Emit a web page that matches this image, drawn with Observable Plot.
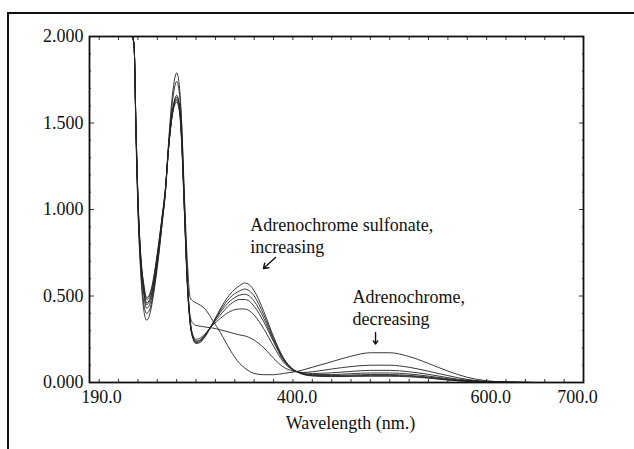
<!DOCTYPE html>
<html>
<head>
<meta charset="utf-8">
<script src="https://cdn.jsdelivr.net/npm/d3@7"></script>
<script src="https://cdn.jsdelivr.net/npm/@observablehq/plot@0.6"></script>
<style>
  html, body { margin: 0; padding: 0; background: #fff; }
  #wrap { position: relative; width: 634px; height: 449px; background: #fff; overflow: hidden; }
  #border { position: absolute; left: 7px; top: 12px; right: -5px; bottom: -5px;
            border-top: 2.5px solid #111; border-left: 2.5px solid #111; pointer-events: none; }
</style>
</head>
<body>
<div id="wrap"><div id="chart"></div><div id="border"></div></div>
<script>
// ---- data ----
const wavelength = [190, 234, 236, 238, 240, 243, 246, 249, 252, 255, 258, 262, 265, 268, 272, 276, 280, 283, 285, 288, 291, 294, 297,
                    300, 305, 310, 317, 325, 335, 345, 350, 355, 360, 370, 380, 390, 400, 405, 410, 420, 440, 460, 480, 500, 520, 540, 560, 580, 600, 620, 650, 700];

const scanA = [2.0, 2.0, 1.95, 1.42, 1.0, 0.62, 0.42, 0.36, 0.39, 0.47, 0.58, 0.76, 0.92, 1.08, 1.42, 1.68, 1.79, 1.7, 1.52, 1.08, 0.7, 0.49, 0.47,
               0.46, 0.445, 0.42, 0.36, 0.29, 0.19, 0.11, 0.085, 0.065, 0.052, 0.045, 0.045, 0.052, 0.06, 0.065, 0.072, 0.088, 0.12, 0.152, 0.172, 0.172, 0.15, 0.11, 0.066, 0.03, 0.01, 0.003, 0, 0];
const scanB = [2.0, 2.0, 1.95, 1.44, 1.02, 0.65, 0.46, 0.40, 0.42, 0.49, 0.6, 0.77, 0.92, 1.08, 1.4, 1.64, 1.74, 1.66, 1.5, 1.05, 0.6, 0.38, 0.34,
               0.33, 0.325, 0.32, 0.315, 0.305, 0.29, 0.275, 0.27, 0.26, 0.245, 0.2, 0.14, 0.09, 0.066, 0.06, 0.058, 0.062, 0.078, 0.092, 0.1, 0.1, 0.088, 0.065, 0.04, 0.018, 0.006, 0.002, 0, 0];
const scanC = [2.0, 2.0, 1.95, 1.46, 1.05, 0.69, 0.51, 0.43, 0.45, 0.51, 0.61, 0.79, 0.94, 1.08, 1.38, 1.58, 1.66, 1.6, 1.44, 1.02, 0.6, 0.36, 0.27,
               0.25, 0.26, 0.285, 0.33, 0.37, 0.41, 0.425, 0.425, 0.415, 0.39, 0.31, 0.21, 0.12, 0.072, 0.062, 0.056, 0.052, 0.056, 0.064, 0.07, 0.07, 0.062, 0.047, 0.028, 0.013, 0.005, 0.001, 0, 0];
const scanD = [2.0, 2.0, 1.95, 1.46, 1.05, 0.7, 0.53, 0.45, 0.47, 0.53, 0.63, 0.8, 0.94, 1.08, 1.38, 1.58, 1.65, 1.59, 1.43, 1.01, 0.59, 0.35, 0.265,
               0.24, 0.25, 0.28, 0.335, 0.39, 0.45, 0.48, 0.48, 0.47, 0.44, 0.35, 0.235, 0.13, 0.074, 0.06, 0.052, 0.046, 0.046, 0.051, 0.055, 0.055, 0.049, 0.037, 0.022, 0.01, 0.004, 0.001, 0, 0];
const scanE = [2.0, 2.0, 1.95, 1.47, 1.06, 0.71, 0.54, 0.46, 0.48, 0.54, 0.64, 0.81, 0.95, 1.09, 1.38, 1.57, 1.64, 1.58, 1.42, 1.0, 0.58, 0.345, 0.26,
               0.235, 0.245, 0.28, 0.34, 0.405, 0.47, 0.505, 0.51, 0.5, 0.47, 0.37, 0.245, 0.135, 0.075, 0.06, 0.05, 0.042, 0.04, 0.043, 0.046, 0.046, 0.041, 0.031, 0.018, 0.008, 0.003, 0.001, 0, 0];
const scanF = [2.0, 2.0, 1.95, 1.47, 1.07, 0.72, 0.56, 0.48, 0.5, 0.56, 0.66, 0.82, 0.96, 1.1, 1.38, 1.57, 1.63, 1.57, 1.41, 0.99, 0.57, 0.34, 0.255,
               0.23, 0.24, 0.275, 0.34, 0.415, 0.49, 0.53, 0.54, 0.53, 0.5, 0.39, 0.255, 0.14, 0.076, 0.06, 0.049, 0.04, 0.037, 0.039, 0.041, 0.041, 0.037, 0.028, 0.016, 0.007, 0.003, 0.001, 0, 0];
const scanG = [2.0, 2.0, 1.95, 1.48, 1.08, 0.73, 0.57, 0.49, 0.51, 0.57, 0.67, 0.83, 0.96, 1.1, 1.38, 1.56, 1.62, 1.56, 1.4, 0.98, 0.56, 0.335, 0.25,
               0.225, 0.235, 0.27, 0.34, 0.425, 0.51, 0.56, 0.575, 0.565, 0.53, 0.41, 0.265, 0.145, 0.077, 0.06, 0.048, 0.038, 0.034, 0.035, 0.036, 0.036, 0.033, 0.025, 0.014, 0.006, 0.002, 0.001, 0, 0];

const scans = {A: scanA, B: scanB, C: scanC, D: scanD, E: scanE, F: scanF, G: scanG};

const xTickValues = [190, 400, 600, 700];
const yTickValues = [0, 0.5, 1.0, 1.5, 2.0];
const xLabel = "Wavelength (nm.)";

const annotations = [
  {wl: 356, a: 0.855, text: "Adrenochrome sulfonate,\nincreasing"},
  {wl: 461.5, a: 0.439, text: "Adrenochrome,\ndecreasing"}
];
const arrows = [
  {wl1: 382, a1: 0.7225, wl2: 369.6, a2: 0.659},
  {wl1: 485.3, a1: 0.289, wl2: 485.3, a2: 0.222}
];

// ---- build table ----
const rows = [];
for (const [scan, vals] of Object.entries(scans)) {
  vals.forEach((v, i) => rows.push({scan, wavelength: wavelength[i], absorbance: v}));
}

const minorX = d3.range(200, 700, 20);
const minorY = d3.range(0.1, 2.0, 0.1).filter(v => Math.abs(v * 2 - Math.round(v * 2)) > 1e-6);
const majorY = [0.5, 1.0, 1.5];

const font = "'Liberation Serif', 'Times New Roman', Times, serif";
const fmtX = d3.format(".1f");
const fmtY = d3.format(".3f");
const xShift = [12, 4, 4, -6];

const chart = Plot.plot({
  width: 634,
  height: 449,
  marginLeft: 89,
  marginRight: 51,
  marginTop: 36,
  marginBottom: 67,
  style: {fontFamily: font, fontSize: "18px", color: "#111", background: "transparent"},
  x: {domain: [190, 700]},
  y: {domain: [0, 2]},
  marks: [
    Plot.axisY(yTickValues, {anchor: "left", tickSize: 0, tickPadding: 6, tickFormat: fmtY, label: null, fontSize: 18}),
    Plot.axisY(minorY, {anchor: "left", tickSize: -2, fill: "none", label: null, stroke: "#333"}),
    Plot.axisY(majorY, {anchor: "left", tickSize: -5, fill: "none", label: null, stroke: "#333"}),
    Plot.axisY(minorY, {anchor: "right", tickSize: -2, fill: "none", label: null, stroke: "#333"}),
    Plot.axisY(majorY, {anchor: "right", tickSize: -5, fill: "none", label: null, stroke: "#333"}),
    Plot.axisX(minorX, {anchor: "bottom", tickSize: -3, fill: "none", label: null, stroke: "#333"}),
    Plot.axisX(minorX, {anchor: "top", tickSize: -3, fill: "none", label: null, stroke: "#333"}),
    ...xTickValues.map((t, i) => Plot.text([t], {x: d => d, frameAnchor: "bottom", dy: 15, dx: xShift[i],
      lineAnchor: "middle", text: d => fmtX(d), fontSize: 18, fill: "#111"})),
    Plot.text([xLabel], {frameAnchor: "bottom", dx: 14, dy: 41, lineAnchor: "middle", text: d => d, fontSize: 18, fill: "#111"}),
    Plot.line(rows, {x: "wavelength", y: "absorbance", z: "scan", curve: "monotone-x",
      stroke: "#222", strokeWidth: 0.9, clip: true}),
    Plot.frame({stroke: "#111", strokeWidth: 1.8}),
    Plot.text(annotations, {x: "wl", y: "a", text: "text", textAnchor: "start", lineAnchor: "middle",
      lineHeight: 1.22, fontSize: 18, fill: "#111"}),
    Plot.arrow(arrows, {x1: "wl1", y1: "a1", x2: "wl2", y2: "a2", stroke: "#111", strokeWidth: 1.4, headLength: 6, headAngle: 70})
  ]
});
document.getElementById("chart").appendChild(chart);
</script>
</body>
</html>
